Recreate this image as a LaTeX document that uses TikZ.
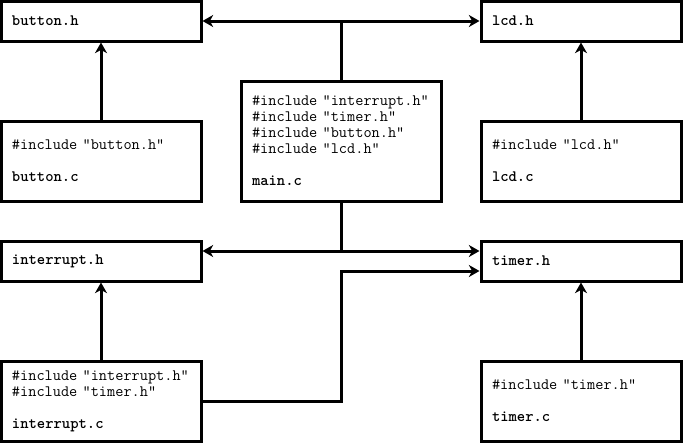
\documentclass[tikz,border=0pt]{standalone}
\usetikzlibrary{arrows.meta}
\tikzset{
  file/.style={draw, line width=2.25pt, minimum width=150pt, text width=133.5pt,
    inner xsep=8.25pt, inner ysep=0pt, align=left,
    font=\ttfamily\fontsize{11.9}{12}\selectfont},
  hfile/.style={file, minimum height=30pt},
  cfile/.style={file, minimum height=60pt},
  mfile/.style={file, minimum height=90pt},
  dep/.style={line width=2.25pt, -{Stealth[length=8pt,width=9pt,inset=2.5pt]}}
}
\begin{document}
\begin{tikzpicture}[x=0.75pt, y=-0.75pt]
      \useasboundingbox (0,0) rectangle (683,443);
      \node[hfile] (bh) at (101,21) {\textbf{button.h}};
      \node[hfile] (lh) at (581,21) {\textbf{lcd.h}};
      \node[mfile] (main) at (341,141) {\mbox{\#include "interrupt.h"}\\\#include "timer.h"\\\#include "button.h"\\\#include "lcd.h"\\[12pt]\textbf{main.c}};
      \node[cfile] (bc) at (101,161) {\#include "button.h"\\[12pt]\textbf{button.c}};
      \node[cfile] (lc) at (581,161) {\#include "lcd.h"\\[12pt]\textbf{lcd.c}};
      \node[hfile] (ih) at (101,261) {\textbf{interrupt.h}};
      \node[hfile] (th) at (581,261) {\textbf{timer.h}};
      \node[cfile] (ic) at (101,401) {\mbox{\#include "interrupt.h"}\\\#include "timer.h"\\[12pt]\textbf{interrupt.c}};
      \node[cfile] (tc) at (581,401) {\#include "timer.h"\\[12pt]\textbf{timer.c}};
      \begin{scope}[dep]
        \draw (main.north) |- (bh.east);
        \draw (main.north) |- (lh.west);
        \draw (bc) -- (bh);
        \draw (lc) -- (lh);
        \draw (main.south) |- ([yshift=7.5pt]ih.east);
        \draw (main.south) |- ([yshift=7.5pt]th.west);
        \draw (ic.east) -- (ic.east -| main.south) |- ([yshift=-7.5pt]th.west);
        \draw (ic) -- (ih);
        \draw (tc) -- (th);
      \end{scope}
    \end{tikzpicture}
\end{document}
